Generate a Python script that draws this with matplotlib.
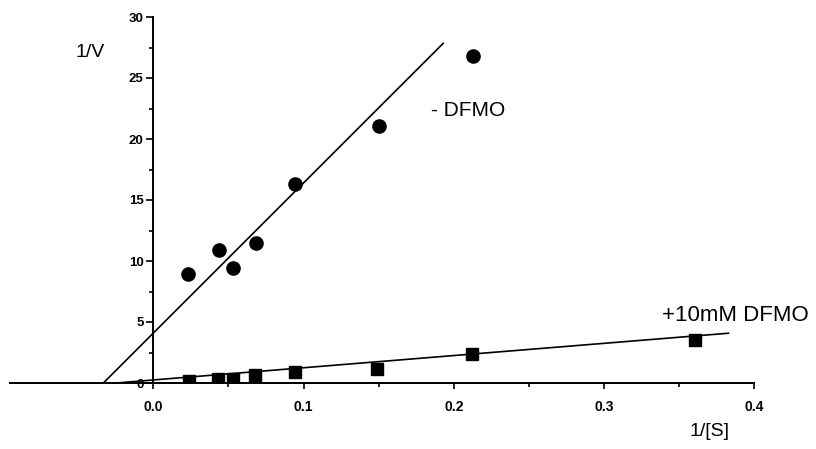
import matplotlib
matplotlib.use("Agg")
import matplotlib.pyplot as plt
import numpy as np

plt.rcParams['font.family'] = ['Liberation Sans', 'DejaVu Sans']

# 1/[S] and 1/V without inhibitor
s_ctrl = [0.023, 0.044, 0.053, 0.0685, 0.0945, 0.150, 0.213]
v_ctrl = [8.9, 10.9, 9.4, 11.5, 16.3, 21.1, 26.8]

# 1/[S] and 1/V with 10 mM DFMO
s_dfmo = [0.024, 0.043, 0.053, 0.068, 0.094, 0.149, 0.212, 0.361]
v_dfmo = [0.16, 0.33, 0.33, 0.65, 0.9, 1.15, 2.4, 3.5]

# fitted lines: slope, intercept, x range
fit_ctrl = (123.0, 4.1, (-0.0333, 0.193))
fit_dfmo = (10.0, 0.25, (-0.045, 0.383))

fig = plt.figure(figsize=(8.16, 4.49), dpi=100)
ax = fig.add_axes([10/816, 66/449, 744/816, 366/449])

ax.plot(s_ctrl, v_ctrl, 'o', color='black', ms=9.5)
ax.plot(s_dfmo, v_dfmo, 's', color='black', ms=8)

for slope, icpt, (x0, x1) in (fit_ctrl, fit_dfmo):
    xx = np.array([x0, x1])
    ax.plot(xx, slope*xx + icpt, color='black', lw=1.2)

ax.set_xlim(-0.0955, 0.4)
ax.set_ylim(0, 30)

ax.spines['top'].set_visible(False)
ax.spines['right'].set_visible(False)
ax.spines['left'].set_position(('data', 0))
ax.spines['left'].set_linewidth(1.4)
ax.spines['bottom'].set_linewidth(1.4)

ax.set_xticks([0.0, 0.1, 0.2, 0.3, 0.4])
ax.set_xticklabels(['0.0', '0.1', '0.2', '0.3', '0.4'])
ax.set_xticks([0.05, 0.15, 0.25, 0.35], minor=True)
ax.set_yticks([0, 5, 10, 15, 20, 25, 30])
ax.set_yticks([2.5, 7.5, 12.5, 17.5, 22.5, 27.5], minor=True)

ax.tick_params(axis='x', which='major', length=4, width=1.2, pad=8, labelsize=10)
ax.tick_params(axis='x', which='minor', length=3, width=1.2)
ax.tick_params(axis='y', which='major', length=5, width=1.2, pad=2, labelsize=9.5)
ax.tick_params(axis='y', which='minor', length=3, width=1.2)
for lab in ax.get_xticklabels() + ax.get_yticklabels():
    lab.set_fontweight('bold')

ax.text(-0.052, 27.8, '1/V', fontsize=14, ha='left', va='top', clip_on=False)
ax.text(0.185, 22.3, '- DFMO', fontsize=15, ha='left', va='center')
ax.text(0.339, 5.5, '+10mM DFMO', fontsize=16, ha='left', va='center', clip_on=False)
ax.text(0.357, -4.0, '1/[S]', fontsize=14, ha='left', va='center', clip_on=False)

fig.savefig('out.png', dpi=100)
